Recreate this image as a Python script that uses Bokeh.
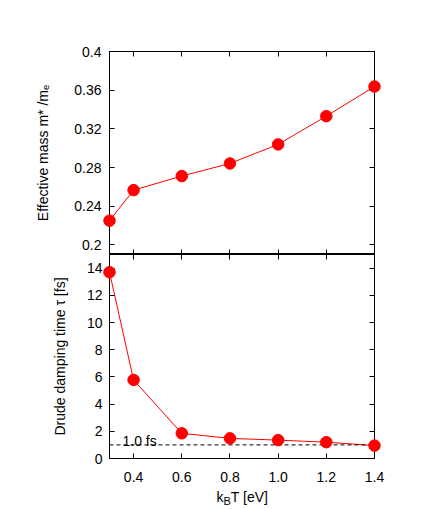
from bokeh.plotting import figure
from bokeh.models import Range1d, LinearAxis, FixedTicker, Label, Span
from bokeh.layouts import column
from bokeh.embed import file_html
from bokeh.resources import INLINE

# ---------------- data ----------------
kT = [0.3, 0.4, 0.6, 0.8, 1.0, 1.2, 1.4]
mass_ratio = [0.225, 0.2566, 0.2711, 0.2842, 0.3039, 0.3331, 0.3638]
tau_fs = [13.7, 5.78, 1.85, 1.48, 1.35, 1.2, 0.95]
tau_ref = 1.0
tau_ref_label = "1.0 fs"

x_ticks = [0.4, 0.6, 0.8, 1.0, 1.2, 1.4]
x_tick_labels = ["0.4", "0.6", "0.8", "1.0", "1.2", "1.4"]
m_ticks = [0.2, 0.24, 0.28, 0.32, 0.36, 0.4]
m_tick_labels = ["0.2", "0.24", "0.28", "0.32", "0.36", "0.4"]
t_ticks = [0, 2, 4, 6, 8, 10, 12, 14]
t_tick_labels = ["0", "2", "4", "6", "8", "10", "12", "14"]

X_LO, X_HI = 0.3, 1.4
M_LO, M_HI = 0.19, 0.4
T_LO, T_HI = 0.0, 15.0

# ---------------- layout constants (page pixels) ----------------
FONT = "Liberation Sans"
FS = "14px"
FS_SMALL = "11px"
RED = "#ff0000"
FRAME_L = 109
FW = 265
RIGHT = 40
TOP = 51
FH1 = 203
FH2 = 204
BOTTOM2 = 28
XLAB_H = 19
P1_BOTTOM = TOP + FH1
P2_BOTTOM = P1_BOTTOM + FH2 + BOTTOM2


def style_axis(ax, ticks, labels, mode="show", standoff=7, line=True):
    """mode: 'show' = visible labels, 'blank' = empty labels, 'zero' = no room at all"""
    ax.ticker = FixedTicker(ticks=ticks)
    if mode == "blank":
        ax.major_label_overrides = {t: "" for t in ticks}
    else:
        ax.major_label_overrides = {t: l for t, l in zip(ticks, labels)}
    ax.major_tick_in = 5
    ax.major_tick_out = 0
    ax.minor_tick_line_color = None
    ax.axis_line_color = "black" if line else None
    ax.major_tick_line_color = "black"
    ax.major_label_text_font = FONT
    ax.major_label_text_color = "black"
    if mode == "show":
        ax.major_label_text_font_size = FS
        ax.major_label_standoff = standoff
    elif mode == "blank":
        ax.major_label_text_font_size = FS
        ax.major_label_standoff = 0
    else:
        ax.major_label_text_font_size = "0px"
        ax.major_label_standoff = 0
    ax.axis_label_text_font = FONT
    ax.axis_label_text_font_size = FS
    ax.axis_label_text_font_style = "normal"
    ax.axis_label_text_color = "black"


def base_fig(y_lo, y_hi, fh, top, bottom):
    p = figure(frame_width=FW, frame_height=fh, title=None,
               x_range=Range1d(X_LO, X_HI), y_range=Range1d(y_lo, y_hi),
               output_backend="svg", toolbar_location=None,
               min_border_left=FRAME_L, min_border_right=RIGHT,
               min_border_top=top, min_border_bottom=bottom,
               background_fill_color="white", border_fill_color="white")
    p.grid.visible = False
    p.outline_line_color = "black"
    p.outline_line_width = 1
    return p


def text_fig(x0, x1, y0, y1):
    # blank canvas whose frame data units are page pixels (y grows downward)
    p = figure(frame_width=int(x1 - x0), frame_height=int(y1 - y0), title=None,
               x_range=Range1d(x0, x1), y_range=Range1d(y1, y0),
               output_backend="svg", toolbar_location=None,
               min_border_left=FRAME_L, min_border_right=RIGHT,
               min_border_top=0, min_border_bottom=0,
               x_axis_location=None, y_axis_location=None,
               background_fill_color="white", border_fill_color="white")
    p.grid.visible = False
    p.outline_line_color = None
    return p


def add_text(p, txt, px, py, fs):
    p.add_layout(Label(x=px, y=py, text=txt,
                       text_align="left", text_baseline="alphabetic",
                       text_font=FONT, text_font_size=fs, text_color="black"))


# ---------------- top panel ----------------
p1 = base_fig(M_LO, M_HI, FH1, TOP, 0)
style_axis(p1.xaxis[0], x_ticks, x_tick_labels, "zero", line=False)
style_axis(p1.yaxis[0], m_ticks, m_tick_labels, "show", standoff=8)
p1.yaxis[0].axis_label = "Effective mass m* /m\u2091"
p1.yaxis[0].axis_label_standoff = 20
ax = LinearAxis(); style_axis(ax, m_ticks, m_tick_labels, "blank"); p1.add_layout(ax, "right")
ax = LinearAxis(); style_axis(ax, x_ticks, x_tick_labels, "blank"); p1.add_layout(ax, "above")

p1.line(kT, mass_ratio, line_color=RED, line_width=1)
p1.scatter(kT, mass_ratio, size=11.5, fill_color=RED, line_color=RED, level="overlay")

# ---------------- bottom panel ----------------
p2 = base_fig(T_LO, T_HI, FH2, 0, BOTTOM2)
style_axis(p2.xaxis[0], x_ticks, x_tick_labels, "show", standoff=13)
style_axis(p2.yaxis[0], t_ticks, t_tick_labels, "show", standoff=7)
p2.yaxis[0].axis_label = "Drude damping time \u03c4 [fs]"
p2.yaxis[0].axis_label_standoff = 16
ax = LinearAxis(); style_axis(ax, t_ticks, t_tick_labels, "blank"); p2.add_layout(ax, "right")
ax = LinearAxis(); style_axis(ax, x_ticks, x_tick_labels, "zero", line=False); p2.add_layout(ax, "above")

p2.add_layout(Span(location=tau_ref, dimension="width", line_color="black",
                   line_width=1, line_dash="4 3"))
p2.add_layout(Label(x=X_LO, y=tau_ref, text=tau_ref_label,
                    x_offset=13, y_offset=4,
                    text_align="left", text_baseline="alphabetic",
                    text_font=FONT, text_font_size=FS, text_color="black"))

p2.line(kT, tau_fs, line_color=RED, line_width=1)
p2.scatter(kT, tau_fs, size=11.5, fill_color=RED, line_color=RED, level="overlay")

# x label: k_B T [eV]
xlab = text_fig(FRAME_L, FRAME_L + FW, P2_BOTTOM, P2_BOTTOM + XLAB_H)
add_text(xlab, "k", 216.0, 496.0, FS)
add_text(xlab, "B", 223.0, 500.0, FS_SMALL)
add_text(xlab, "T [eV]", 230.3, 496.0, FS)

layout = column(p1, p2, xlab)
open("out.html", "w").write(file_html(layout, INLINE))
